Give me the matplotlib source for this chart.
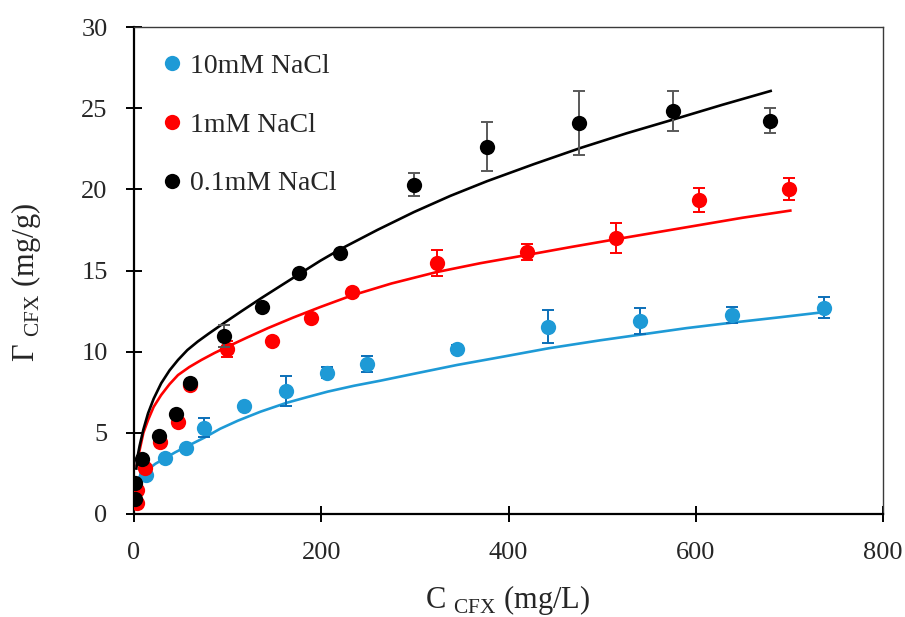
import matplotlib
matplotlib.use("Agg")
import matplotlib.pyplot as plt

plt.rcParams['font.family'] = ['Liberation Serif', 'DejaVu Serif']
plt.rcParams['mathtext.fontset'] = 'custom'
plt.rcParams['mathtext.rm'] = 'Liberation Serif'

# measured points
c10 = [12.8, 33, 55.5, 74.8, 117.5, 162, 206, 249, 345, 442.7, 540.6, 639, 736.5]
q10 = [2.4, 3.43, 4.05, 5.32, 6.67, 7.58, 8.7, 9.24, 10.15, 11.54, 11.9, 12.26, 12.71]
e10 = [0, 0, 0, 0.6, 0, 0.9, 0.35, 0.5, 0.25, 1.0, 0.8, 0.5, 0.65]

c1 = [2.8, 3.6, 11.8, 27.8, 47.4, 59.9, 99, 147, 189, 232.5, 323.4, 419.5, 515, 603, 700]
q1 = [0.66, 1.48, 2.85, 4.46, 5.69, 7.95, 10.17, 10.66, 12.07, 13.66, 15.45, 16.16, 17.0, 19.35, 20.02]
e1 = [0, 0, 0, 0, 0, 0, 0.5, 0, 0, 0, 0.8, 0.5, 0.9, 0.73, 0.65]

c01 = [1.1, 1.0, 8.9, 26.7, 44.5, 59.8, 96, 136.8, 176, 220, 299.5, 376.8, 475.8, 576, 678.8]
q01 = [0.9, 1.93, 3.39, 4.8, 6.16, 8.05, 10.97, 12.75, 14.85, 16.06, 20.29, 22.63, 24.07, 24.85, 24.23]
e01 = [0, 0, 0, 0, 0, 0, 0.7, 0, 0, 0, 0.7, 1.49, 1.98, 1.23, 0.75]

# fitted curves
fit10_x = [6, 10, 15, 23, 33, 44, 56, 75, 92, 111, 135, 163, 185, 207, 235, 263,
           300, 345, 395, 443, 498, 541, 590, 639, 690, 736]
fit10_y = [2.3, 2.5, 2.75, 3.1, 3.43, 3.8, 4.15, 4.7, 5.25, 5.75, 6.3, 6.85, 7.2,
           7.54, 7.9, 8.21, 8.65, 9.18, 9.7, 10.21, 10.7, 11.05, 11.45, 11.79, 12.12, 12.43]

fit1_x = [3, 4.5, 6, 10, 15, 21, 29, 38, 47, 59, 72, 86, 100, 120, 143, 170, 199,
          232, 275, 323, 370, 420, 467, 514, 558, 603, 650, 701]
fit1_y = [3.0, 3.5, 3.94, 5.0, 5.79, 6.6, 7.33, 8.0, 8.56, 9.05, 9.49, 9.92, 10.31,
          10.85, 11.45, 12.1, 12.75, 13.45, 14.2, 14.9, 15.45, 15.96, 16.45, 16.92,
          17.35, 17.79, 18.25, 18.69]

fit01_x = [2.5, 4, 6, 10, 15, 21, 29, 38, 47, 57, 68, 80, 97, 115, 136, 157, 177,
           199, 220, 260, 299, 338, 377, 427, 477, 526, 576, 628, 680]
fit01_y = [2.8, 3.6, 4.2, 5.2, 6.2, 7.1, 8.05, 8.85, 9.49, 10.1, 10.62, 11.12, 11.8,
           12.5, 13.3, 14.07, 14.8, 15.6, 16.3, 17.5, 18.6, 19.6, 20.5, 21.55, 22.55,
           23.45, 24.3, 25.2, 26.06]

blue = '#1E9AD6'
blue_err = '#0B6FB8'
red = '#FF0000'
black = '#000000'
black_err = '#595959'

fig = plt.figure(figsize=(9.05, 6.17), dpi=100)
ax = fig.add_axes([134/905, 1-514/617, 749/905, 487/617])

ax.plot(fit10_x, fit10_y, color=blue, lw=1.9, zorder=2)
ax.plot(fit1_x, fit1_y, color=red, lw=1.9, zorder=2)
ax.plot(fit01_x, fit01_y, color=black, lw=1.9, zorder=2)

series = [
    (c10, q10, e10, blue, blue_err, '10mM NaCl'),
    (c1, q1, e1, red, red, '1mM NaCl'),
    (c01, q01, e01, black, black_err, '0.1mM NaCl'),
]
for i, (x, y, e, col, ecol, lab) in enumerate(series):
    ax.errorbar(x, y, yerr=e, fmt='none', ecolor=ecol, elinewidth=1.4,
                capsize=4.3, capthick=1.4, zorder=3 + i)
    ax.plot(x, y, 'o', color=col, markersize=11, markeredgewidth=0,
            label=lab, zorder=4 + i)

ax.set_xlim(0, 800)
ax.set_ylim(0, 30)
ax.set_xticks([0, 200, 400, 600, 800])
ax.set_yticks([0, 5, 10, 15, 20, 25, 30])
ax.tick_params(direction='inout', length=12, width=1.4, labelsize=19,
               labelcolor='#262626')
ax.tick_params(axis='y', pad=13)
ax.tick_params(axis='x', pad=14)

for s in ['left', 'bottom']:
    ax.spines[s].set_linewidth(1.6)
    ax.spines[s].set_color('black')
for s in ['top', 'right']:
    ax.spines[s].set_linewidth(1.0)
    ax.spines[s].set_color('#3a3a3a')

ax.set_ylabel(r'$\Gamma$ $_{\mathrm{CFX}}$ (mg/g)', fontsize=22, color='#262626')
ax.set_xlabel(r'C $_{\mathrm{CFX}}$ (mg/L)', fontsize=22, color='#262626')
ax.yaxis.set_label_coords(-0.122, 0.476)
ax.xaxis.set_label_coords(0.4993, -0.142)

leg = ax.legend(loc='upper left', bbox_to_anchor=(0.039, 0.946), frameon=False,
                fontsize=20, handlelength=0.6, handletextpad=0.35,
                labelspacing=1.2, borderpad=0, borderaxespad=0, markerscale=1.0)
for t in leg.get_texts():
    t.set_color('#262626')

fig.savefig('out.png', dpi=100)
